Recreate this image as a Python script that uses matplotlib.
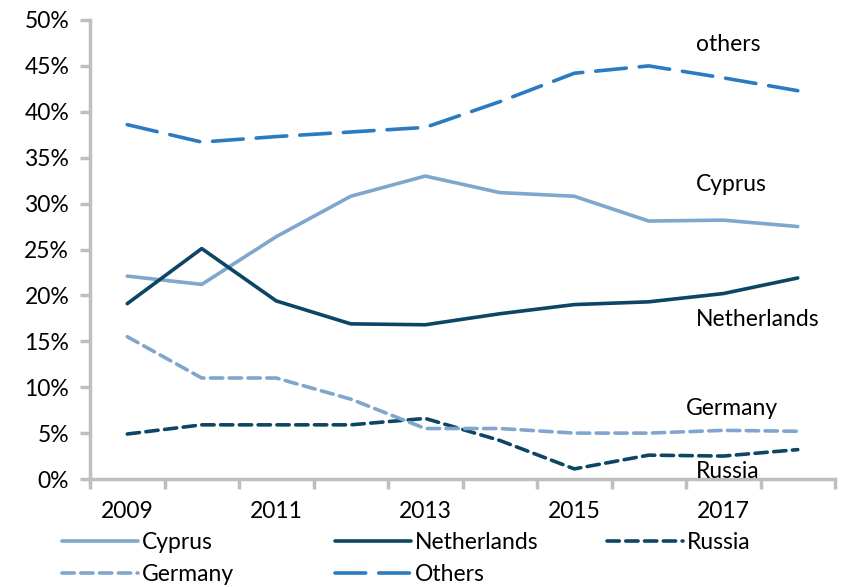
import matplotlib

matplotlib.use("Agg")
import matplotlib.pyplot as plt
from matplotlib.lines import Line2D
from matplotlib.ticker import FuncFormatter
import numpy as np

years = [2009, 2010, 2011, 2012, 2013, 2014, 2015, 2016, 2017, 2018]
cyprus = [22.1, 21.2, 26.4, 30.8, 33.0, 31.2, 30.8, 28.1, 28.2, 27.5]
netherlands = [19.1, 25.1, 19.4, 16.9, 16.8, 18.0, 19.0, 19.3, 20.2, 21.9]
russia = [4.9, 5.9, 5.9, 5.9, 6.6, 4.2, 1.1, 2.6, 2.5, 3.2]
germany = [15.5, 11.0, 11.0, 8.7, 5.5, 5.5, 5.0, 5.0, 5.3, 5.2]
others = [38.6, 36.7, 37.3, 37.8, 38.3, 41.1, 44.2, 45.0, 43.7, 42.3]

LIGHT = "#7fa6cc"
DARK = "#0d4665"
MID = "#2a7bc1"
GRID = "#bfbfbf"

plt.rcParams["font.family"] = ["Lato", "DejaVu Sans"]
plt.rcParams["font.size"] = 16.5

fig = plt.figure(figsize=(8.46, 5.87), dpi=100)
ax = fig.add_axes([90 / 846, 1 - 479 / 587, 745 / 846, 459 / 587])

x = np.arange(len(years))
lw = 2.6
short_dash = (0, (3.4, 1.8))
long_dash = (0, (8.5, 3.6))
series = [
    ("Cyprus", cyprus, LIGHT, "-"),
    ("Netherlands", netherlands, DARK, "-"),
    ("Russia", russia, DARK, short_dash),
    ("Germany", germany, LIGHT, short_dash),
    ("Others", others, MID, long_dash),
]
style = {}
for name, vals, col, ls in series:
    ax.plot(x, vals, color=col, lw=lw, ls=ls, solid_capstyle="round",
            dash_capstyle="round", solid_joinstyle="round")
    style[name] = (col, ls)

ax.set_xlim(-0.5, len(years) - 0.5)
ax.set_ylim(0, 50)
ax.set_yticks(np.arange(0, 51, 5))
ax.yaxis.set_major_formatter(FuncFormatter(lambda v, _: f"{v:.0f}%"))

# category axis: ticks between categories, labels every other year
ax.set_xticks(np.arange(-0.5, len(years), 1.0))
ax.set_xticklabels([])
ax.set_xticks(x[::2], minor=True)
ax.set_xticklabels([str(y) for y in years[::2]], minor=True)
ax.tick_params(axis="x", which="minor", length=0, pad=16)
ax.tick_params(axis="both", which="major", length=7, width=2.5, color=GRID, direction="out")
ax.tick_params(axis="y", pad=8)

for side in ("top", "right"):
    ax.spines[side].set_visible(False)
for side in ("left", "bottom"):
    ax.spines[side].set_color(GRID)
    ax.spines[side].set_linewidth(2.5)

# labels next to the lines
ax.text(7.63, 47.3, "others", ha="left", va="center")
ax.text(7.63, 32.1, "Cyprus", ha="left", va="center")
ax.text(7.63, 17.4, "Netherlands", ha="left", va="center")
ax.text(7.5, 7.7, "Germany", ha="left", va="center")
ax.text(7.63, 0.8, "Russia", ha="left", va="center")

# legend, Excel-like grid with equal column widths
cols = [(["Cyprus", "Germany"], 62), (["Netherlands", "Others"], 335), (["Russia"], 607)]
for names, px in cols:
    handles = [Line2D([], [], color=style[n][0], lw=lw, ls=style[n][1],
                      solid_capstyle="round", dash_capstyle="round") for n in names]
    fig.legend(handles, names, loc="upper left", bbox_to_anchor=(px / 846, 1 - 532 / 587),
               frameon=False, handlelength=3.3, handletextpad=0.2, labelspacing=0.5,
               borderaxespad=0, borderpad=0)

fig.savefig("out.png", dpi=100)
